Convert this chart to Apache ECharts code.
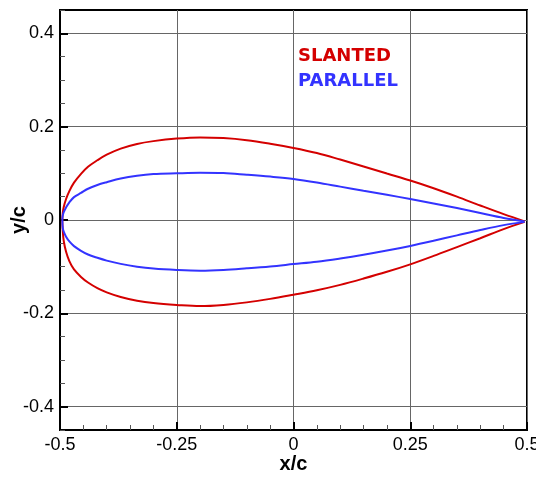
<!DOCTYPE html>
<html>
<head>
<meta charset="utf-8">
<script src="https://cdn.jsdelivr.net/npm/echarts@6/dist/echarts.min.js"></script>
<style>html,body{margin:0;padding:0;background:#fff}#c{width:536px;height:479px}</style>
</head>
<body>
<div id="c"></div>
<script>
// x stations (x/c)
const xStations = [-0.495,-0.494,-0.492,-0.487,-0.480,-0.470,-0.455,-0.440,-0.420,-0.400,-0.370,-0.335,-0.300,-0.250,-0.200,-0.150,-0.100,-0.050,0,0.05,0.10,0.15,0.20,0.25,0.30,0.35,0.40,0.45,0.495];
// SLANTED profile (y/c)
const slantedUpper = [0,0.016,0.028,0.045,0.062,0.080,0.099,0.114,0.128,0.140,0.153,0.163,0.169,0.1745,0.177,0.1755,0.171,0.1635,0.1545,0.1435,0.1295,0.1148,0.0995,0.0845,0.068,0.050,0.031,0.0125,-0.003];
const slantedLower = [0,-0.024,-0.045,-0.068,-0.088,-0.106,-0.122,-0.134,-0.146,-0.155,-0.165,-0.173,-0.178,-0.182,-0.1845,-0.182,-0.1765,-0.169,-0.160,-0.1505,-0.139,-0.1255,-0.111,-0.095,-0.077,-0.058,-0.039,-0.0195,-0.004];
// PARALLEL profile (y/c)
const parallelUpper = [0,0.010,0.017,0.027,0.038,0.049,0.058,0.067,0.075,0.081,0.089,0.095,0.0985,0.100,0.101,0.1005,0.097,0.093,0.088,0.0805,0.0715,0.0625,0.054,0.045,0.0355,0.0255,0.015,0.0045,-0.003];
const parallelLower = [0,-0.018,-0.025,-0.036,-0.046,-0.056,-0.066,-0.074,-0.081,-0.087,-0.094,-0.100,-0.104,-0.107,-0.1085,-0.107,-0.1035,-0.0995,-0.0945,-0.0895,-0.0825,-0.0745,-0.0655,-0.0555,-0.0445,-0.033,-0.0215,-0.011,-0.004];
// tick labels
const xTicks = [-0.5,-0.25,0,0.25,0.5];
const yTicks = [-0.4,-0.2,0,0.2,0.4];
const seriesNames = ['SLANTED','PARALLEL'];

function loop(up, lo){
  const pts = [];
  for (let i = xStations.length - 1; i >= 0; i--) pts.push([xStations[i], up[i]]);
  for (let i = 1; i < xStations.length; i++) pts.push([xStations[i], lo[i]]);
  return pts;
}
const RED = '#d40000', BLUE = '#3333ff';
const FONT = 'Liberation Sans';
const chart = echarts.init(document.getElementById('c'), null, {renderer:'canvas'});
chart.setOption({
  animation:false,
  backgroundColor:'#fff',
  grid:{left:60,right:9,top:10,bottom:49,containLabel:false,outerBoundsMode:'none',
        show:true,borderColor:'#000',borderWidth:2,backgroundColor:'transparent'},
  graphic:[
    {type:'text',left:298,top:47,z:10,style:{text:seriesNames[0],fill:RED,font:'bold 18px "DejaVu Sans"'}},
    {type:'text',left:298,top:72,z:10,style:{text:seriesNames[1],fill:BLUE,font:'bold 18px "DejaVu Sans"'}}
  ],
  xAxis:{
    type:'value', min:xTicks[0], max:xTicks[xTicks.length-1], interval:0.25,
    name:'x/c', nameLocation:'middle', nameGap:24, nameMoveOverlap:false,
    nameTextStyle:{fontFamily:FONT,fontWeight:'bold',fontSize:20,color:'#000'},
    axisLine:{onZero:false,lineStyle:{color:'#000',width:2}},
    axisTick:{inside:true,length:8,lineStyle:{color:'#000',width:2}},
    minorTick:{show:true,splitNumber:5,length:5,lineStyle:{color:'#555',width:1}},
    splitLine:{show:true,lineStyle:{color:'#666',width:1}},
    axisLabel:{fontFamily:FONT,fontSize:18,color:'#000',margin:6}
  },
  yAxis:[{
    type:'value', min:-0.45, max:0.45, interval:0.05, position:'left',
    axisLine:{onZero:false,lineStyle:{color:'#000',width:2}},
    axisTick:{inside:true,length:5,lineStyle:{color:'#555',width:1}},
    axisLabel:{show:false},
    splitLine:{show:false}
  },{
    type:'value', min:-0.45, max:0.45, interval:0.05, position:'left', offset:0,
    name:'y/c', nameLocation:'middle', nameGap:31, nameRotate:90, nameMoveOverlap:false,
    nameTextStyle:{fontFamily:FONT,fontWeight:'bold',fontSize:20,color:'#000'},
    axisLine:{show:false,onZero:false},
    axisTick:{inside:true,length:8,customValues:yTicks,lineStyle:{color:'#000',width:2}},
    axisLabel:{customValues:yTicks,fontFamily:FONT,fontSize:18,color:'#000',margin:6},
    splitLine:{show:true,lineStyle:{color:'#666',width:1}}
  }],
  series:[
    {name:seriesNames[0],type:'line',data:loop(slantedUpper,slantedLower),showSymbol:false,smooth:0.35,
     lineStyle:{color:RED,width:2},itemStyle:{color:RED},z:3},
    {name:seriesNames[1],type:'line',data:loop(parallelUpper,parallelLower),showSymbol:false,smooth:0.35,
     lineStyle:{color:BLUE,width:2},itemStyle:{color:BLUE},z:3}
  ]
});
</script>
</body>
</html>
